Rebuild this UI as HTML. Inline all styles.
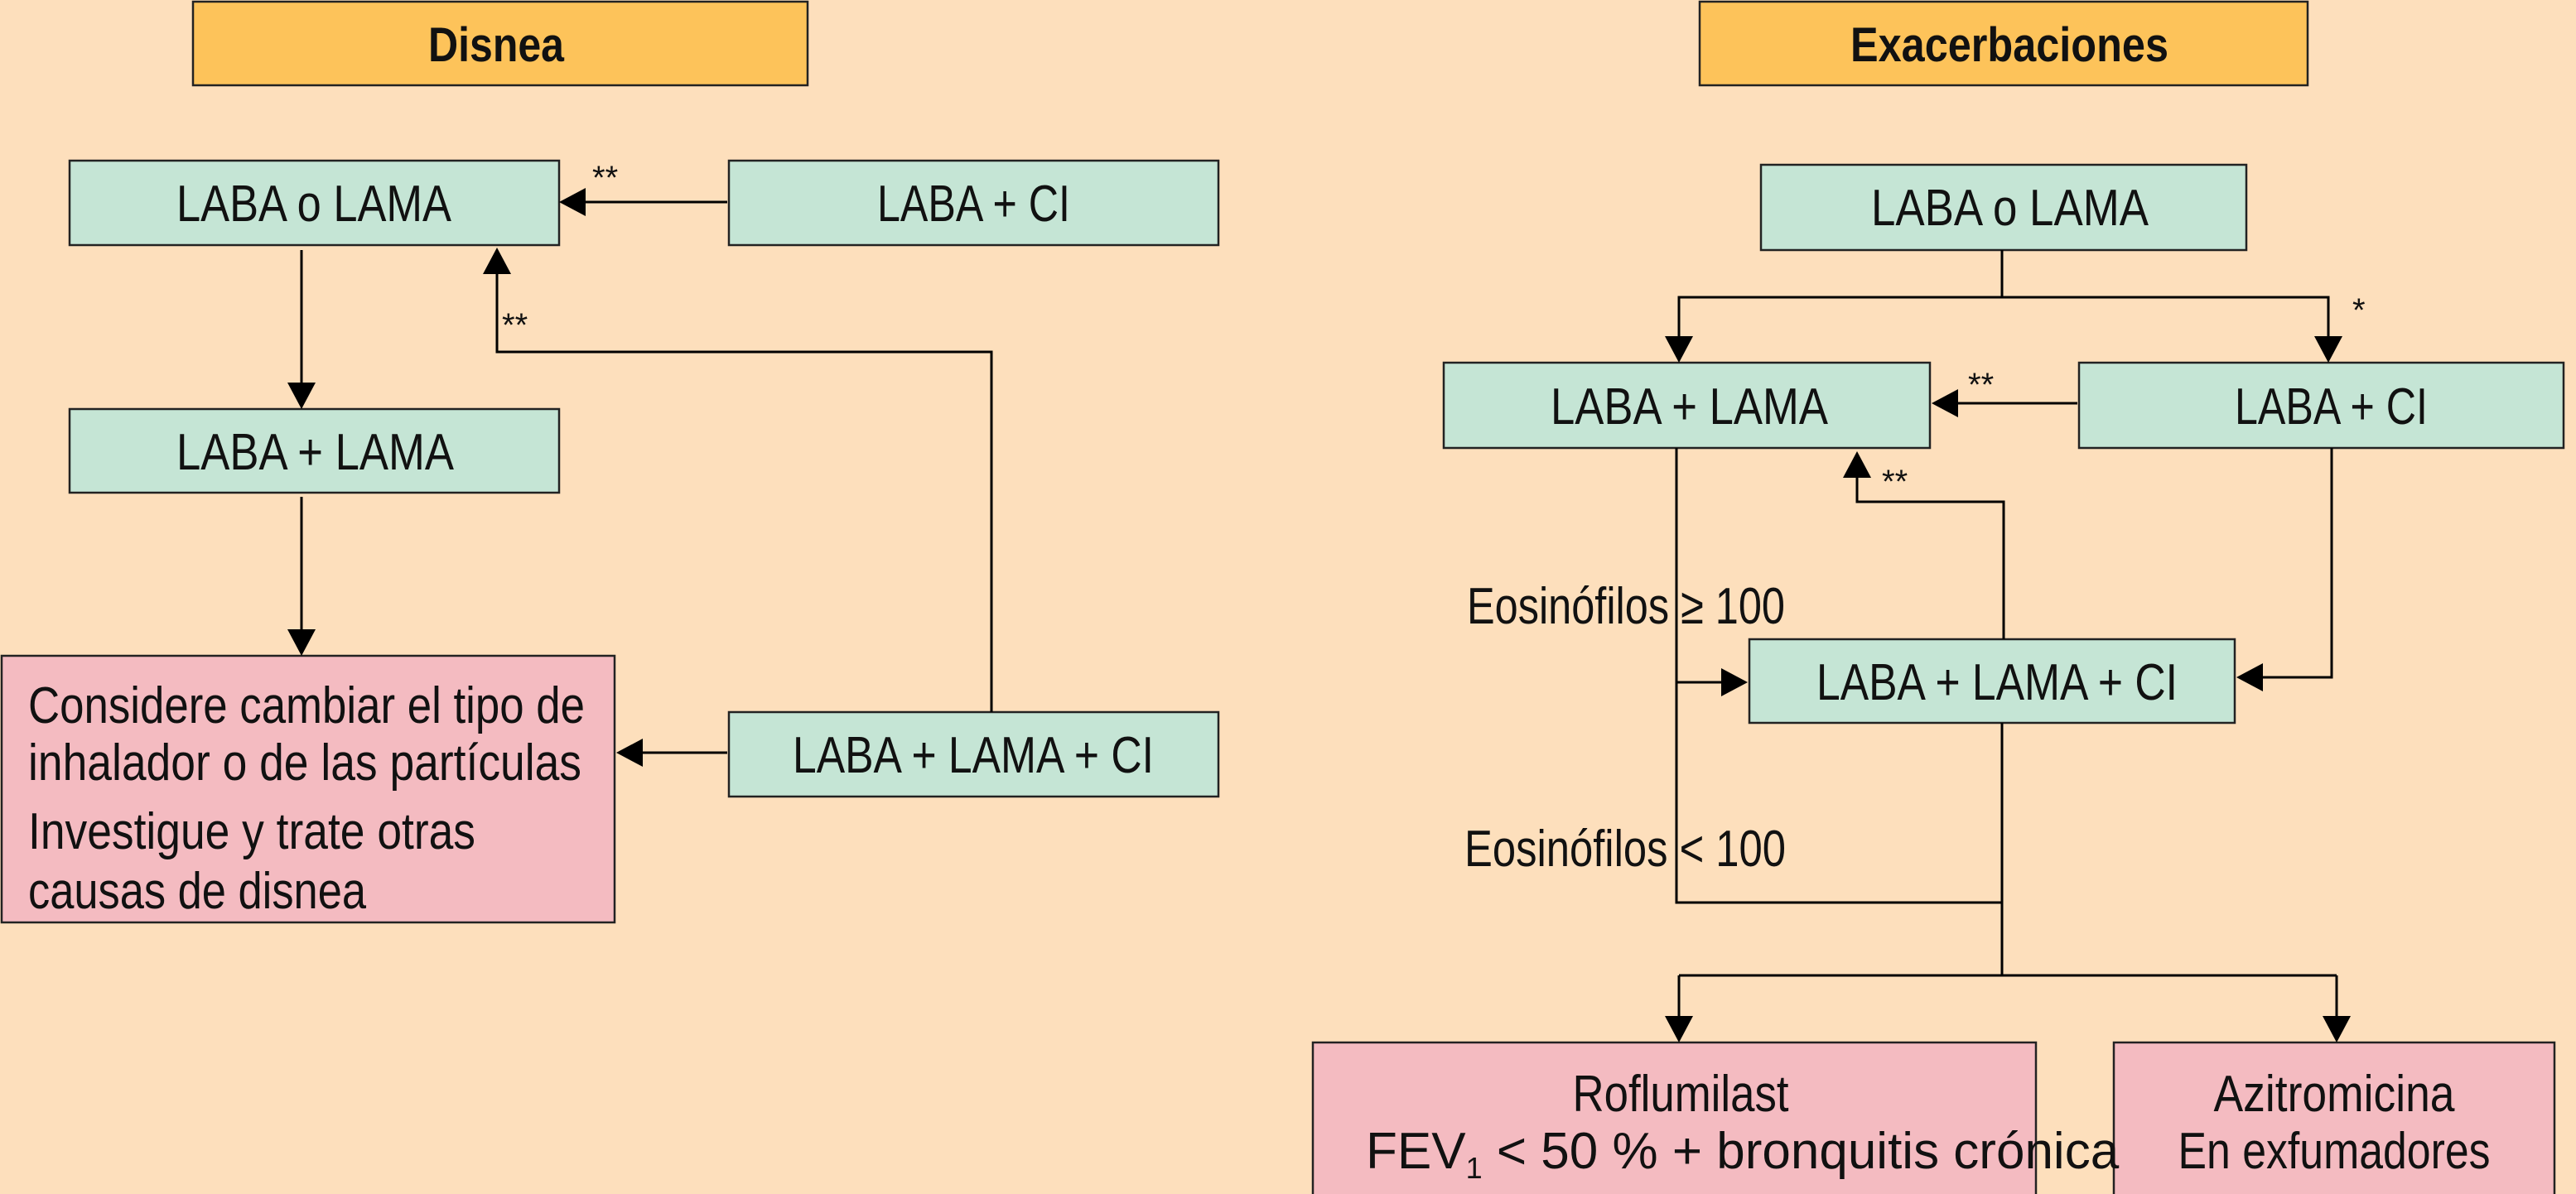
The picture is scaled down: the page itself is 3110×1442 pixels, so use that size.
<!DOCTYPE html>
<html><head><meta charset="utf-8"><style>
html,body{margin:0;padding:0;background:#FDDFBC;}
svg{display:block;}
text{font-family:"Liberation Sans Narrow","Liberation Sans",sans-serif;fill:#111;}
</style></head><body>
<svg width="3110" height="1442" viewBox="0 0 3110 1442" xmlns="http://www.w3.org/2000/svg">
<defs>
<marker id="a" viewBox="0 0 10 10" refX="10" refY="5" markerWidth="11" markerHeight="11" markerUnits="userSpaceOnUse" orient="auto">
</marker>
</defs>
<rect width="3110" height="1442" fill="#FDDFBC"/>
<g stroke="#222" stroke-width="2.5">
<rect x="233" y="2" width="742" height="101" fill="#FDC35A"/>
<rect x="2052" y="2" width="734" height="101" fill="#FDC35A"/>
<rect x="84" y="194" width="591" height="102" fill="#C5E5D5"/>
<rect x="880" y="194" width="591" height="102" fill="#C5E5D5"/>
<rect x="84" y="494" width="591" height="101" fill="#C5E5D5"/>
<rect x="2" y="792" width="740" height="322" fill="#F4BBC1"/>
<rect x="880" y="860" width="591" height="102" fill="#C5E5D5"/>
<rect x="2126" y="199" width="586" height="103" fill="#C5E5D5"/>
<rect x="1743" y="438" width="587" height="103" fill="#C5E5D5"/>
<rect x="2510" y="438" width="585" height="103" fill="#C5E5D5"/>
<rect x="2112" y="772" width="586" height="101" fill="#C5E5D5"/>
<rect x="1585" y="1259" width="873" height="200" fill="#F4BBC1"/>
<rect x="2552" y="1259" width="532" height="200" fill="#F4BBC1"/>
</g>
<g stroke="#000" stroke-width="3" fill="none">
<path d="M878 244H705"/>
<path d="M364 302V462"/>
<path d="M364 600V760"/>
<path d="M878 909H775"/>
<path d="M1197 860V425H600V330"/>
<path d="M2417 302V359H2027V408M2417 359H2811V408"/>
<path d="M2508 487H2362"/>
<path d="M2419 772V606H2242V575"/>
<path d="M2815 541V818H2730"/>
<path d="M2024 541V1090H2417M2417 873V1178M2024 824H2080"/>
<path d="M2027 1178H2821M2027 1178V1230M2821 1178V1230"/>
</g>
<g fill="#000">
<path d="M675 244l32-17v34z"/>
<path d="M347 462h34l-17 32z"/>
<path d="M347 760h34l-17 32z"/>
<path d="M744 909l32-17v34z"/>
<path d="M583 331h34l-17-32z"/>
<path d="M2010 406h34l-17 32z"/>
<path d="M2794 406h34l-17 32z"/>
<path d="M2332 487l32-17v34z"/>
<path d="M2225 577h34l-17-32z"/>
<path d="M2700 818l32-17v34z"/>
<path d="M2110 824l-32-17v34z"/>
<path d="M2010 1227h34l-17 32z"/>
<path d="M2804 1227h34l-17 32z"/>
</g>
<g font-size="62">
<text x="599" y="74" text-anchor="middle" font-weight="bold" font-size="58" textLength="164" lengthAdjust="spacingAndGlyphs">Disnea</text>
<text x="2426" y="74" text-anchor="middle" font-weight="bold" font-size="58" textLength="384" lengthAdjust="spacingAndGlyphs">Exacerbaciones</text>
<text x="213" y="267" textLength="332" lengthAdjust="spacingAndGlyphs">LABA o LAMA</text>
<text x="1059" y="267" textLength="233" lengthAdjust="spacingAndGlyphs">LABA + CI</text>
<text x="213" y="567" textLength="335" lengthAdjust="spacingAndGlyphs">LABA + LAMA</text>
<text x="957" y="933" textLength="436" lengthAdjust="spacingAndGlyphs">LABA + LAMA + CI</text>
<text x="34" y="873" textLength="672" lengthAdjust="spacingAndGlyphs">Considere cambiar el tipo de</text>
<text x="34" y="942" textLength="668" lengthAdjust="spacingAndGlyphs">inhalador o de las partículas</text>
<text x="34" y="1025" textLength="540" lengthAdjust="spacingAndGlyphs">Investigue y trate otras</text>
<text x="34" y="1097" textLength="408" lengthAdjust="spacingAndGlyphs">causas de disnea</text>
<text x="2259" y="272" textLength="335" lengthAdjust="spacingAndGlyphs">LABA o LAMA</text>
<text x="1872" y="512" textLength="335" lengthAdjust="spacingAndGlyphs">LABA + LAMA</text>
<text x="2698" y="512" textLength="233" lengthAdjust="spacingAndGlyphs">LABA + CI</text>
<text x="2193" y="845" textLength="436" lengthAdjust="spacingAndGlyphs">LABA + LAMA + CI</text>
<text x="1771" y="753" textLength="384" lengthAdjust="spacingAndGlyphs">Eosinófilos ≥ 100</text>
<text x="1768" y="1046" textLength="388" lengthAdjust="spacingAndGlyphs">Eosinófilos &lt; 100</text>
<text x="2029" y="1342" text-anchor="middle" textLength="261" lengthAdjust="spacingAndGlyphs">Roflumilast</text>
<text x="1649" y="1411">FEV<tspan font-size="36" dy="12">1</tspan><tspan dy="-12"> &lt; 50 % + bronquitis crónica</tspan></text>
<text x="2818" y="1342" text-anchor="middle" textLength="291" lengthAdjust="spacingAndGlyphs">Azitromicina</text>
<text x="2818" y="1411" text-anchor="middle" textLength="377" lengthAdjust="spacingAndGlyphs">En exfumadores</text>
</g>
<g font-size="40">
<text x="715" y="228">**</text>
<text x="606" y="406">**</text>
<text x="2376" y="478">**</text>
<text x="2272" y="595">**</text>
<text x="2840" y="388">*</text>
</g>
</svg>
</body></html>
